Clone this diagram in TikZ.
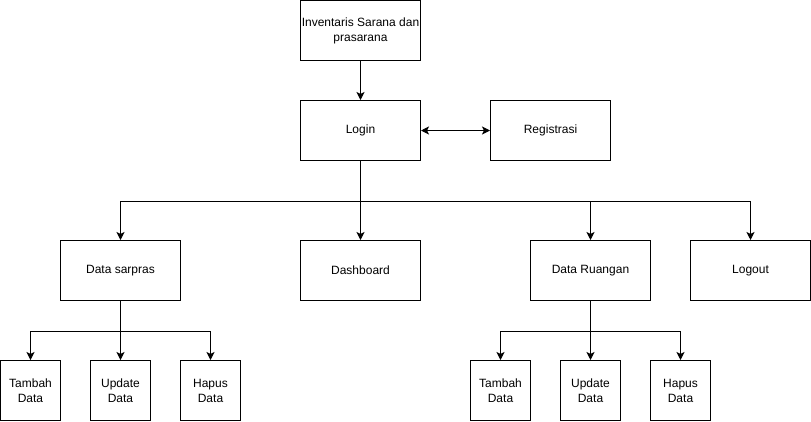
\documentclass[tikz,border=0pt]{standalone}
\usepackage{fontspec}
\setmainfont{Liberation Sans}
\usepackage{tikz}
\usetikzlibrary{arrows.meta}

\tikzset{
  kotak/.style={draw, line width=1pt, minimum width=120pt, minimum height=60pt, inner sep=0pt, align=center, font=\fontsize{12}{15}\selectfont},
  kecil/.style={kotak, minimum width=60pt}
}

\begin{document}
\begin{tikzpicture}[x=1pt, y=-1pt, >={Stealth[length=8pt,width=8pt,inset=2pt]}, line width=1pt]
  \useasboundingbox (-0.5,-0.5) rectangle (810.5,420.5);
  % atas
  \node[kotak] (inv) at (360,30) {Inventaris Sarana dan\\prasarana};
  \node[kotak] (login) at (360,130) {Login};
  \node[kotak] (reg) at (550,130) {Registrasi};
  % menu
  \node[kotak] (sarpras) at (120,270) {Data sarpras};
  \node[kotak] (dash) at (360,270) {Dashboard};
  \node[kotak] (ruang) at (590,270) {Data Ruangan};
  \node[kotak] (logout) at (750,270) {Logout};
  % sub menu
  \node[kecil] (tambah1) at (30,390) {Tambah\\Data};
  \node[kecil] (update1) at (120,390) {Update\\Data};
  \node[kecil] (hapus1) at (210,390) {Hapus\\Data};
  \node[kecil] (tambah2) at (500,390) {Tambah\\Data};
  \node[kecil] (update2) at (590,390) {Update\\Data};
  \node[kecil] (hapus2) at (680,390) {Hapus\\Data};

  \draw[->] (inv) -- (login);
  \draw[<->] (login) -- (reg);
  \foreach \t in {sarpras,dash,ruang,logout}{
  	\draw[->] (login.south) -- ++(0,40) -| (\t.north);
	}
  \foreach \t in {tambah1,update1,hapus1}{
  	\draw[->] (sarpras.south) -- ++(0,30) -| (\t.north);
	}
  \foreach \t in {tambah2,update2,hapus2}{
  	\draw[->] (ruang.south) -- ++(0,30) -| (\t.north);
	}
\end{tikzpicture}
\end{document}
